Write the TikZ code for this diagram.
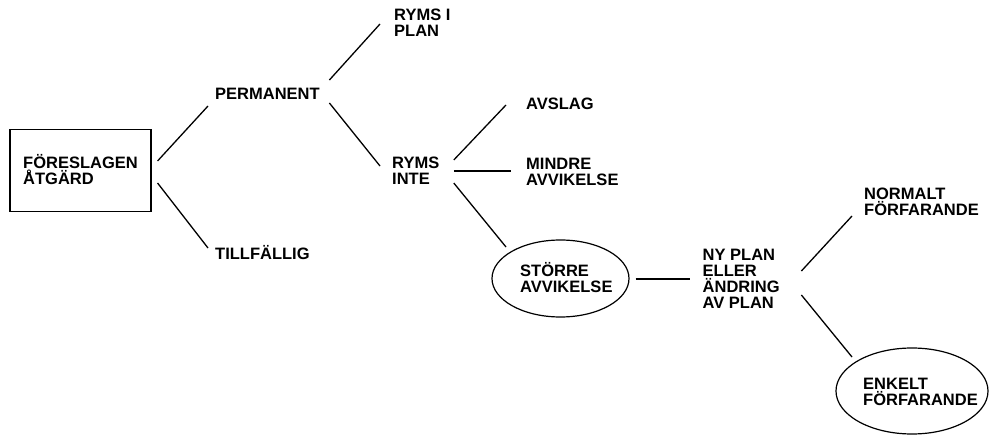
\documentclass[tikz,border=0pt]{standalone}
\usepackage{fontspec}
\setmainfont{Liberation Sans}
\usetikzlibrary{shapes.geometric,calc}
\newcommand\lblfont{\fontsize{16.5}{16}\selectfont\bfseries\lineskiplimit=-10pt}
\newcommand\lbltop{\rule{0pt}{16pt}}
\newcommand\lblbot{\rule[-4.2pt]{0pt}{4.2pt}}
\begin{document}
\begin{tikzpicture}[x=1pt,y=-1pt,
  lbl/.style={font=\lblfont, align=left, inner sep=0pt, anchor=west},
  conn/.style={line width=1.3pt},
  oval/.style={draw, ellipse, line width=1.2pt, inner sep=0pt}]
\useasboundingbox (0,0) rectangle (990,435);
% nodes
\node[lbl, draw, line width=1.1pt, anchor=center, minimum width=141pt, minimum height=82.5pt] (box) at (80.5,170.5) {\lbltop FÖRESLAGEN\\ÅTGÄRD\lblbot};
\node[lbl] (perm) at (215,93.2) {\lbltop PERMANENT\lblbot};
\node[lbl] (tillf) at (215,253.8) {\lbltop TILLFÄLLIG\lblbot};
\node[lbl] (rymsi) at (394,23) {\lbltop RYMS I\\PLAN\lblbot};
\node[lbl] (rymsinte) at (392,170.5) {\lbltop RYMS\\INTE\lblbot};
\node[lbl] (avslag) at (526,104) {\lbltop AVSLAG\lblbot};
\node[lbl] (mindre) at (526,171.5) {\lbltop MINDRE\\AVVIKELSE\lblbot};
\node[oval, minimum width=137pt, minimum height=77pt] (stor) at (560.5,278.5) {};
\node[lbl] (stortxt) at (520,279) {\lbltop STÖRRE\\AVVIKELSE\lblbot};
\node[lbl] (nyplan) at (702.5,279) {\lbltop NY PLAN\\ELLER\\ÄNDRING\\AV PLAN\lblbot};
\node[lbl] (normalt) at (864,201.7) {\lbltop NORMALT\\FÖRFARANDE\lblbot};
\node[oval, minimum width=152pt, minimum height=86pt] (enkelt) at (912,391) {};
\node[lbl] (enkelttxt) at (863,391.5) {\lbltop ENKELT\\FÖRFARANDE\lblbot};
% connectors
\draw[conn] ($(box.east)+(6,-9.5)$) -- ($(perm.west)+(-7,12.8)$);
\draw[conn] ($(box.east)+(6,12.5)$) -- ($(tillf.west)+(-7,-5.8)$);
\draw[conn] ($(perm.east)+(9.5,-13.2)$) -- ($(rymsi.west)+(-14,1)$);
\draw[conn] ($(perm.east)+(9.5,9.8)$) -- ($(rymsinte.west)+(-12,-4.5)$);
\draw[conn] ($(rymsinte.east)+(14.3,-10.5)$) -- ($(avslag.west)+(-20,1)$);
\draw[conn] ($(rymsinte.east)+(14.3,0.5)$) -- ($(mindre.west)+(-15,-0.5)$);
\draw[conn] ($(rymsinte.east)+(14.3,12.5)$) -- ($(stor.center)+(-54.5,-31.5)$);
\draw[conn] ($(stor.east)+(6,0.5)$) -- ($(nyplan.west)+(-12.5,0)$);
\draw[conn] ($(nyplan.east)+(21.5,-8)$) -- ($(normalt.west)+(-12,14.3)$);
\draw[conn] ($(nyplan.east)+(21.5,16)$) -- ($(enkelt.center)+(-60,-34)$);
\end{tikzpicture}
\end{document}
